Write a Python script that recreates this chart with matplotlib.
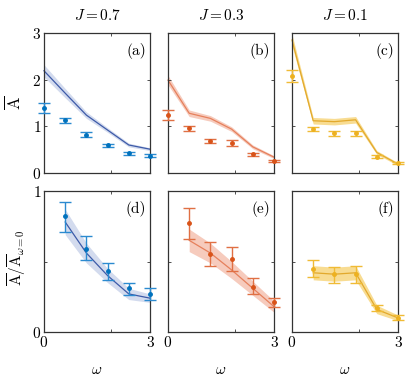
import numpy as np
import matplotlib
matplotlib.use("Agg")
import matplotlib.pyplot as plt

plt.rcParams["mathtext.fontset"] = "cm"
plt.rcParams["font.family"] = "serif"
plt.rcParams["font.serif"] = ["cmr10", "DejaVu Serif"]
plt.rcParams["axes.formatter.use_mathtext"] = True

# omega grid shared by every panel
omega = [0.0, 0.6, 1.2, 1.8, 2.4, 3.0]
titles = ["$J = 0.7$", "$J = 0.3$", "$J = 0.1$"]
panel_tags = [["(a)", "(b)", "(c)"], ["(d)", "(e)", "(f)"]]

# top row: mean A (experiment points with errors, theory line with band)
top_pts = [[1.39, 1.13, 0.82, 0.59, 0.42, 0.37],
           [1.24, 0.96, 0.69, 0.64, 0.40, 0.26],
           [2.08, 0.94, 0.85, 0.85, 0.35, 0.21]]
top_err = [[0.10, 0.05, 0.05, 0.04, 0.03, 0.03],
           [0.11, 0.05, 0.04, 0.06, 0.03, 0.02],
           [0.13, 0.05, 0.05, 0.06, 0.03, 0.02]]
top_line = [[2.19, 1.71, 1.24, 0.92, 0.60, 0.51],
            [1.99, 1.28, 1.17, 0.94, 0.56, 0.34],
            [2.85, 1.12, 1.10, 1.14, 0.44, 0.19]]
top_band = [[0.13, 0.10, 0.07, 0.05, 0.04, 0.03],
            [0.10, 0.07, 0.06, 0.05, 0.04, 0.03],
            [0.12, 0.07, 0.07, 0.07, 0.04, 0.03]]

# bottom row: normalised by the omega = 0 value (omega = 0 omitted)
bot_omega = omega[1:]
bot_pts = [[0.82, 0.59, 0.43, 0.31, 0.27],
           [0.77, 0.55, 0.52, 0.32, 0.21],
           [0.45, 0.41, 0.41, 0.17, 0.10]]
bot_lo = [[0.71, 0.51, 0.37, 0.26, 0.23],
          [0.66, 0.47, 0.43, 0.27, 0.18],
          [0.39, 0.35, 0.35, 0.15, 0.085]]
bot_hi = [[0.92, 0.68, 0.49, 0.35, 0.31],
          [0.88, 0.64, 0.60, 0.38, 0.24],
          [0.51, 0.46, 0.47, 0.19, 0.12]]
bot_line = [[0.78, 0.56, 0.40, 0.27, 0.24],
            [0.65, 0.56, 0.44, 0.31, 0.18],
            [0.42, 0.41, 0.42, 0.16, 0.10]]
bot_band = [[0.09, 0.07, 0.05, 0.04, 0.03],
            [0.08, 0.07, 0.06, 0.05, 0.04],
            [0.05, 0.05, 0.05, 0.03, 0.02]]

point_colors = ["#0072BD", "#D95319", "#EDB120"]
bar_colors = ["#2b8ad0", "#e07044", "#f0bb35"]
line_colors = ["#3d5aa8", "#e6805c", "#e2a92c"]
band_colors = ["#d3dbee", "#f6cbbd", "#f8dc92"]

fig = plt.figure(figsize=(4.15, 3.91), dpi=100)
W, H = 415.0, 391.0
lefts = [44, 168, 292]
tops = [(33, 173), (191, 332)]


def style_axes(ax):
    ax.tick_params(direction="in", length=2, width=0.6, labelsize=11,
                   top=True, right=True, pad=2, color="#333333")
    for s in ax.spines.values():
        s.set_linewidth(0.9)
        s.set_color("#333333")


for row in range(2):
    (y0, y1) = tops[row]
    for col in range(3):
        ax = fig.add_axes([lefts[col] / W, 1 - y1 / H, 106 / W, (y1 - y0) / H])
        style_axes(ax)
        if row == 0:
            x = np.array(omega)
            line = np.array(top_line[col])
            band = np.array(top_band[col])
            pts = np.array(top_pts[col])
            lo = pts - np.array(top_err[col])
            hi = pts + np.array(top_err[col])
        else:
            x = np.array(bot_omega)
            line = np.array(bot_line[col])
            band = np.array(bot_band[col])
            pts = np.array(bot_pts[col])
            lo = np.array(bot_lo[col])
            hi = np.array(bot_hi[col])
        ax.fill_between(x, line - band, line + band, color=band_colors[col],
                        lw=0, zorder=1, clip_on=False)
        ax.plot(x, line, color=line_colors[col], lw=0.9, zorder=2, clip_on=False)
        ax.errorbar(x, pts, yerr=[pts - lo, hi - pts], fmt="none",
                    ecolor=bar_colors[col], elinewidth=1.0, capsize=4.5,
                    capthick=1.0, zorder=3, clip_on=False)
        ax.plot(x, pts, "o", ms=2.5, color=point_colors[col], zorder=4,
                clip_on=False)
        ax.set_xlim(0, 3)
        ax.set_xticks([0, 1.9, 3])
        if row == 0:
            ax.set_ylim(0, 3)
            ax.set_yticks([0, 1, 2, 3])
            ax.set_xticklabels([])
            ax.set_title(titles[col], fontsize=11, pad=9)
            if col == 0:
                ax.set_yticklabels(["$0$", "$1$", "$2$", "$3$"])
                ax.set_ylabel(r"$\overline{\mathrm{A}}$", fontsize=12)
                ax.yaxis.set_label_coords(-0.2, 0.5)
            else:
                ax.set_yticklabels([])
        else:
            ax.set_ylim(0, 1)
            ax.set_yticks([0, 0.5, 1])
            ax.set_xticklabels(["$0$", "", "$3$"])
            ax.set_xlabel(r"$\omega$", fontsize=11, labelpad=10)
            if col == 0:
                ax.set_yticklabels(["$0$", "", "$1$"])
                ax.set_ylabel(r"$\overline{\mathrm{A}}/\overline{\mathrm{A}}_{\omega=0}$",
                              fontsize=11)
                ax.yaxis.set_label_coords(-0.15, 0.53)
            else:
                ax.set_yticklabels([])
        ax.text(0.96, 0.93, panel_tags[row][col], transform=ax.transAxes,
                ha="right", va="top", fontsize=11,
                family=["cmr10", "DejaVu Serif"])

fig.savefig("out.png", dpi=100, facecolor="white")
